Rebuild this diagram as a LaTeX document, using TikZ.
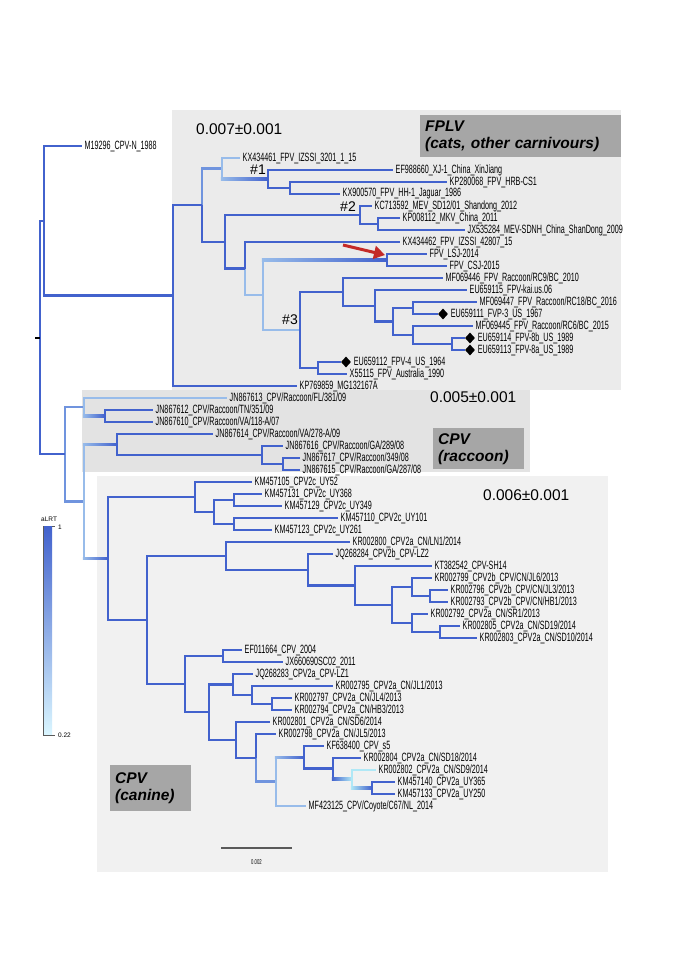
\documentclass[tikz,border=0pt]{standalone}
\usepackage{fontspec}
\setmainfont{Liberation Sans}
\newfontfamily\narrowfont[FakeStretch=0.6]{Liberation Sans}
\usetikzlibrary{calc,shapes.geometric,arrows.meta}
\definecolor{bdk}{RGB}{66,98,205}
\definecolor{bmd}{RGB}{112,148,222}
\definecolor{blt}{RGB}{152,188,234}
\definecolor{bcy}{RGB}{176,232,246}
\definecolor{lgcy}{RGB}{218,246,255}
\definecolor{fplvbg}{RGB}{235,235,235}
\definecolor{racbg}{RGB}{227,227,227}
\definecolor{canbg}{RGB}{241,241,241}
\definecolor{tagbg}{RGB}{166,166,166}
\definecolor{arrred}{RGB}{196,42,40}
\definecolor{sbgray}{RGB}{90,90,90}
% branch whose horizontal part fades from one colour to another
\newcommand\gradbr[4]{%
  \draw[br,draw=#3] (#1) -- (#1 |- #2);
  \shade[left color=#3,right color=#4] ($(#1 |- #2)+(-1.2,-1.2)$) rectangle ($(#2)+(0,1.2)$);}

\begin{document}
\begin{tikzpicture}[x=1pt,y=-1pt,
  br/.style={line width=2.4pt,draw=bdk},
  lf/.style={anchor=west,inner sep=2.5pt,font=\narrowfont\fontsize{12}{12}\selectfont},
  dmd/.style={diamond,fill=black,inner sep=0pt,minimum width=10pt,minimum height=11pt},
  est/.style={anchor=west,inner sep=0pt,font=\fontsize{15.5}{16}\selectfont},
  hashtag/.style={inner sep=0pt,font=\fontsize{14}{14}\selectfont},
  tagbox/.style={fill=tagbg,anchor=north west,align=left,inner xsep=5pt,inner ysep=0pt,
    font=\bfseries\itshape\fontsize{15.5}{17}\selectfont},
  legtxt/.style={inner sep=1pt,font=\fontsize{6.5}{7}\selectfont}]
\useasboundingbox (0,0) rectangle (678,959);

% clade backgrounds
\fill[fplvbg] (172,110) rectangle (621,390);
\fill[racbg] (82,390) rectangle (530,472);
\fill[canbg] (97,476) rectangle (608,872);

\node[tagbox,text width=191pt,minimum height=42pt] (tagF) at (420,115) {FPLV\\(cats, other carnivours)};
\node[tagbox,text width=81pt,minimum height=41pt] (tagR) at (433,428) {CPV\\(raccoon)};
\node[tagbox,text width=71pt,minimum height=46pt] (tagC) at (110,765) {CPV\\(canine)};

\node[est] (estF) at (196,129) {0.007±0.001};
\node[est] (estR) at (430,397) {0.005±0.001};
\node[est] (estC) at (483,495) {0.006±0.001};

% tips
\node[lf] (m0) at (82,146) {M19296\_CPV-N\_1988};
\node[lf] (f1) at (240,158) {KX434461\_FPV\_IZSSI\_3201\_1\_15};
\node[lf] (f2) at (393,170) {EF988660\_XJ-1\_China\_XinJiang};
\node[lf] (f3) at (447,182) {KP280068\_FPV\_HRB-CS1};
\node[lf] (f4) at (340,194) {KX900570\_FPV\_HH-1\_Jaguar\_1986};
\node[lf] (f5) at (372,206) {KC713592\_MEV\_SD12/01\_Shandong\_2012};
\node[lf] (f6) at (400,218) {KP008112\_MKV\_China\_2011};
\node[lf] (f7) at (465,230) {JX535284\_MEV-SDNH\_China\_ShanDong\_2009};
\node[lf] (f8) at (400,242) {KX434462\_FPV\_IZSSI\_42807\_15};
\node[lf] (f9) at (427,254) {FPV\_LSJ-2014};
\node[lf] (f10) at (447,266) {FPV\_CSJ-2015};
\node[lf] (f11) at (443,278) {MF069446\_FPV\_Raccoon/RC9/BC\_2010};
\node[lf] (f12) at (467,290) {EU659115\_FPV-kai.us.06};
\node[lf] (f13) at (477,302) {MF069447\_FPV\_Raccoon/RC18/BC\_2016};
\node[dmd] (d14) at (443,314) {};
\node[lf] (f14) at (d14.east) {EU659111\_FVP-3\_US\_1967};
\node[lf] (f15) at (473,326) {MF069445\_FPV\_Raccoon/RC6/BC\_2015};
\node[dmd] (d16) at (470,338) {};
\node[lf] (f16) at (d16.east) {EU659114\_FPV-8b\_US\_1989};
\node[dmd] (d17) at (470,350) {};
\node[lf] (f17) at (d17.east) {EU659113\_FPV-8a\_US\_1989};
\node[dmd] (d18) at (346,362) {};
\node[lf] (f18) at (d18.east) {EU659112\_FPV-4\_US\_1964};
\node[lf] (f19) at (347,374) {X55115\_FPV\_Australia\_1990};
\node[lf] (f20) at (297,386) {KP769859\_MG132167A};

\node[lf] (r1) at (227,398) {JN867613\_CPV/Raccoon/FL/381/09};
\node[lf] (r2) at (153,410) {JN867612\_CPV/Raccoon/TN/351/09};
\node[lf] (r3) at (153,422) {JN867610\_CPV/Raccoon/VA/118-A/07};
\node[lf] (r4) at (213,434) {JN867614\_CPV/Raccoon/VA/278-A/09};
\node[lf] (r5) at (283,446) {JN867616\_CPV/Raccoon/GA/289/08};
\node[lf] (r6) at (300,458) {JN867617\_CPV/Raccoon/349/08};
\node[lf] (r7) at (300,470) {JN867615\_CPV/Raccoon/GA/287/08};

\node[lf] (c28) at (252,482) {KM457105\_CPV2c\_UY52};
\node[lf] (c29) at (262,494) {KM457131\_CPV2c\_UY368};
\node[lf] (c30) at (282,506) {KM457129\_CPV2c\_UY349};
\node[lf] (c31) at (338,518) {KM457110\_CPV2c\_UY101};
\node[lf] (c32) at (272,530) {KM457123\_CPV2c\_UY261};
\node[lf] (c33) at (350,542) {KR002800\_CPV2a\_CN/LN1/2014};
\node[lf] (c34) at (333,554) {JQ268284\_CPV2b\_CPV-LZ2};
\node[lf] (c35) at (432,566) {KT382542\_CPV-SH14};
\node[lf] (c36) at (432,578) {KR002799\_CPV2b\_CPV/CN/JL6/2013};
\node[lf] (c37) at (448,590) {KR002796\_CPV2b\_CPV/CN/JL3/2013};
\node[lf] (c38) at (448,602) {KR002793\_CPV2b\_CPV/CN/HB1/2013};
\node[lf] (c39) at (428,614) {KR002792\_CPV2a\_CN/SR1/2013};
\node[lf] (c40) at (460,626) {KR002805\_CPV2a\_CN/SD19/2014};
\node[lf] (c41) at (477,638) {KR002803\_CPV2a\_CN/SD10/2014};
\node[lf] (c42) at (242,650) {EF011664\_CPV\_2004};
\node[lf] (c43) at (283,662) {JX660690SC02\_2011};
\node[lf] (c44) at (253,674) {JQ268283\_CPV2a\_CPV-LZ1};
\node[lf] (c45) at (333,686) {KR002795\_CPV2a\_CN/JL1/2013};
\node[lf] (c46) at (292,698) {KR002797\_CPV2a\_CN/JL4/2013};
\node[lf] (c47) at (292,710) {KR002794\_CPV2a\_CN/HB3/2013};
\node[lf] (c48) at (270,722) {KR002801\_CPV2a\_CN/SD6/2014};
\node[lf] (c49) at (276,734) {KR002798\_CPV2a\_CN/JL5/2013};
\node[lf] (c50) at (324,746) {KF638400\_CPV\_s5};
\node[lf] (c51) at (361,758) {KR002804\_CPV2a\_CN/SD18/2014};
\node[lf] (c52) at (376,770) {KR002802\_CPV2a\_CN/SD9/2014};
\node[lf] (c53) at (395,782) {KM457140\_CPV2a\_UY365};
\node[lf] (c54) at (395,794) {KM457133\_CPV2a\_UY250};
\node[lf] (c55) at (306,806) {MF423125\_CPV/Coyote/C67/NL\_2014};

% internal nodes
\coordinate (root) at (40,337.5);
\coordinate (roottick) at (35,337.5);
\coordinate (nT0) at (44,220.8);
\coordinate (nA) at (173,295.6);
\coordinate (nB) at (202,205.1);
\coordinate (nC) at (222,168.5);
\coordinate (nE) at (268,179);
\coordinate (nF) at (290,188);
\coordinate (nD) at (225,241.75);
\coordinate (nG) at (360,215);
\coordinate (nGb) at (378,224);
\coordinate (nI) at (245,268.5);
\coordinate (nJ) at (263,295);
\coordinate (nK) at (387,260);
\coordinate (nL) at (300,329.9);
\coordinate (nM) at (343,291.9);
\coordinate (nO) at (375,305.75);
\coordinate (nP) at (393,321.5);
\coordinate (nQ) at (413,308);
\coordinate (nS) at (413,335);
\coordinate (nR) at (452,344);
\coordinate (nN) at (318,368);
\coordinate (nW) at (65,454.25);
\coordinate (nT) at (84,407);
\coordinate (nTa) at (105,416);
\coordinate (nV) at (84,501.5);
\coordinate (nU3) at (117,444.5);
\coordinate (nU2) at (262,455);
\coordinate (nU1) at (283,464);
\coordinate (nX) at (108,558.5);
\coordinate (k1) at (195,497);
\coordinate (k1b) at (214,512);
\coordinate (k1c) at (234,500);
\coordinate (k1d) at (234,524);
\coordinate (k2) at (147,620);
\coordinate (k2a) at (226,555.9);
\coordinate (k2a2) at (308,569.75);
\coordinate (k2a3) at (355,585.5);
\coordinate (k2a4) at (392,605);
\coordinate (k2a5) at (412,587);
\coordinate (k2a6) at (412,623);
\coordinate (k2a7) at (430,596);
\coordinate (k2a8) at (440,632);
\coordinate (k2b) at (185,684.1);
\coordinate (k2b1) at (223,656);
\coordinate (k2b2) at (209,712.2);
\coordinate (k2b2a) at (233,684.5);
\coordinate (k2b2b) at (252,695);
\coordinate (k2b2c) at (272,704);
\coordinate (k2b2d) at (236,739.9);
\coordinate (k2b2e) at (256,757.8);
\coordinate (k2b2f) at (276,781.6);
\coordinate (k2b2g) at (304,757.25);
\coordinate (k2b2h) at (333,768.5);
\coordinate (k2b2i) at (352,779);
\coordinate (k2b2j) at (372,788);

% weakly supported branches
\draw[br,draw=bmd] (nB) |- (nC);
\draw[br,draw=blt] (nC) |- (f1.west);
\gradbr{nC}{nE}{blt}{bdk}
\draw[br,draw=blt] (nI) |- (nJ);
\gradbr{nJ}{nK}{blt}{bdk}
\draw[br,draw=blt] (nJ) |- (nL);
\draw[br,draw=bmd] (nW) |- (nT);
\draw[br,draw=blt] (nT) |- (r1.west);
\gradbr{nT}{nTa}{blt}{bdk}
\draw[br,draw=bmd] (nW) |- (nV);
\gradbr{nV}{nU3}{blt}{bdk}
\gradbr{nV}{nX}{blt}{bdk}
\draw[br,draw=bmd] (k2b2e) |- (k2b2f);
\gradbr{k2b2f}{k2b2g}{blt}{bdk}
\draw[br,draw=blt] (k2b2f) |- (c55.west);
\gradbr{k2b2h}{k2b2i}{bdk}{bcy}
\draw[br,draw=bcy] (k2b2i) |- (c52.west);
\gradbr{k2b2i}{k2b2j}{bcy}{bdk}

% well supported branches
\foreach \p/\c in {root/nT0,root/nW,nT0/m0.west,nT0/nA,nA/nB,nA/f20.west,nB/nD,
    nE/f2.west,nE/nF,nF/f3.west,nF/f4.west,nD/nG,nD/nI,nG/f5.west,nG/nGb,
    nGb/f6.west,nGb/f7.west,nI/f8.west,nK/f9.west,nK/f10.west,nL/nM,nL/nN,
    nM/f11.west,nM/nO,nO/f12.west,nO/nP,nP/nQ,nP/nS,nQ/f13.west,nQ/d14.west,
    nS/f15.west,nS/nR,nR/d16.west,nR/d17.west,nN/d18.west,nN/f19.west,
    nTa/r2.west,nTa/r3.west,nU3/r4.west,nU3/nU2,nU2/r5.west,nU2/nU1,
    nU1/r6.west,nU1/r7.west,nX/k1,nX/k2,
    k1/c28.west,k1/k1b,k1b/k1c,k1b/k1d,k1c/c29.west,k1c/c30.west,k1d/c31.west,k1d/c32.west,
    k2/k2a,k2/k2b,k2a/c33.west,k2a/k2a2,k2a2/c34.west,k2a2/k2a3,k2a3/c35.west,k2a3/k2a4,
    k2a4/k2a5,k2a4/k2a6,k2a5/c36.west,k2a5/k2a7,k2a7/c37.west,k2a7/c38.west,
    k2a6/c39.west,k2a6/k2a8,k2a8/c40.west,k2a8/c41.west,
    k2b/k2b1,k2b/k2b2,k2b1/c42.west,k2b1/c43.west,k2b2/k2b2a,k2b2/k2b2d,
    k2b2a/c44.west,k2b2a/k2b2b,k2b2b/c45.west,k2b2b/k2b2c,k2b2c/c46.west,k2b2c/c47.west,
    k2b2d/c48.west,k2b2d/k2b2e,k2b2e/c49.west,k2b2g/c50.west,k2b2g/k2b2h,
    k2b2h/c51.west,k2b2j/c53.west,k2b2j/c54.west}
  \draw[br] (\p) |- (\c);
\draw[line width=2pt] (roottick) -- (root);

\node[hashtag] (h1) at (258,170) {\#1};
\node[hashtag] (h2) at (348,207) {\#2};
\node[hashtag] (h3) at (290,320) {\#3};

% arrow to the LSJ/CSJ pair
\coordinate (arrtail) at (343,245);
\coordinate (arrhead) at (385,255);
\draw[line width=3pt,arrred,-{Triangle[length=11pt,width=13pt]}] (arrtail) -- (arrhead);

% aLRT legend
\shade[top color=bdk,bottom color=lgcy] (43,526) rectangle (52,735);
\draw[sbgray,line width=0.6pt] (43,526) -- (43,735) -- (55,735);
\draw[sbgray,line width=0.6pt] (52,526) -- (55,526);
\node[legtxt,anchor=south west] (legtitle) at (40,523) {aLRT};
\node[legtxt,anchor=west] (legmax) at (57,527) {1};
\node[legtxt,anchor=west] (legmin) at (57,735) {0.22};

% scale bar
\coordinate (sbl) at (221,848);
\coordinate (sbr) at (292,848);
\draw[sbgray,line width=1.4pt] (sbl) -- (sbr);
\node[legtxt,font=\narrowfont\fontsize{7}{7}\selectfont] (sblab) at ($(sbl)!.5!(sbr)+(0,14)$) {0.002};
\end{tikzpicture}
\end{document}
